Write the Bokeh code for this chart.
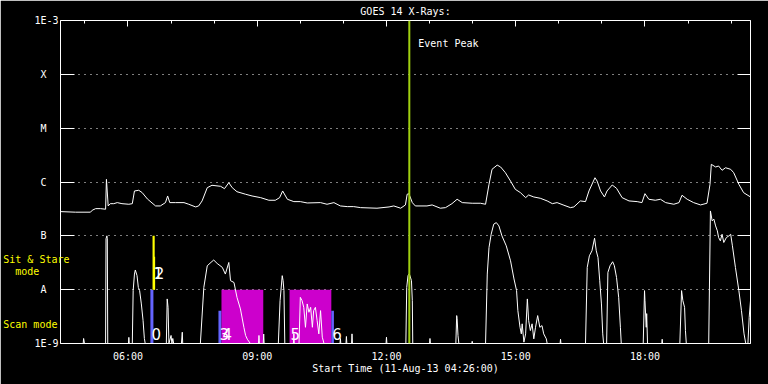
from bokeh.plotting import figure
from bokeh.models import (Range1d, FixedTicker, LinearAxis, LogAxis, Label, Span,
                          ColumnDataSource)
from bokeh.core.properties import value
from bokeh.embed import file_html
from bokeh.resources import INLINE

# ---------------- data (time in decimal hours of 11-Aug-13, flux in W/m^2) -------------
x_start = 4 + 26 / 60.0          # 04:26
x_end = 20.45
event_peak_time = 12.53
F = 1e-9                         # floor of the short channel (bottom of plot)

long_t = [4.43, 4.78, 5.13, 5.17, 5.25, 5.36, 5.48, 5.50, 5.54, 5.59, 5.67, 5.75, 5.86,
          6.02, 6.10, 6.15, 6.25, 6.33, 6.45, 6.64, 6.75, 6.87, 6.92, 6.97, 7.10, 7.30,
          7.41, 7.57, 7.64, 7.72, 7.84, 7.95, 8.15, 8.24, 8.34, 8.42, 8.53, 8.73, 8.88,
          9.08, 9.27, 9.42, 9.52, 9.59, 9.70, 9.85, 10.00, 10.16, 10.47, 10.62, 10.78,
          10.93, 11.09, 11.24, 11.40, 11.78, 12.06, 12.17, 12.33, 12.44, 12.48,
          12.52, 12.60, 12.67, 12.94, 13.06, 13.25, 13.37, 13.52, 13.64, 13.76, 13.99,
          14.18, 14.30, 14.38, 14.45, 14.57, 14.65, 14.76, 14.88, 14.99, 15.11, 15.23,
          15.30, 15.42, 15.57, 15.73, 15.85, 15.96, 16.12, 16.27, 16.35, 16.50, 16.62,
          16.70, 16.84, 16.89, 16.97, 17.06, 17.12, 17.24, 17.34, 17.47, 17.63, 17.82,
          17.93, 18.00, 18.09, 18.24, 18.36, 18.48, 18.67, 18.79, 18.86, 18.98, 19.13,
          19.29, 19.44, 19.51, 19.54, 19.64, 19.71, 19.79, 19.87, 19.99, 20.06, 20.18,
          20.29, 20.45]
long_flux = [2.82e-7, 2.75e-7, 2.75e-7, 2.99e-7, 3.2e-7, 3.2e-7, 3.12e-7, 1.12e-6, 3.59e-7,
             3.96e-7, 3.96e-7, 4.14e-7, 3.96e-7, 3.86e-7, 3.96e-7, 6.81e-7, 7.02e-7, 6.34e-7,
             4.84e-7, 3.59e-7, 3.59e-7, 4.14e-7, 5.5e-7, 4.14e-7, 4.14e-7, 4.14e-7, 3.86e-7,
             3.44e-7, 3.59e-7, 4.45e-7, 7.84e-7, 8.69e-7, 8.32e-7, 7.52e-7, 9.7e-7, 7.84e-7,
             6.6e-7, 5.92e-7, 5.5e-7, 5.12e-7, 4.58e-7, 4.58e-7, 5.12e-7, 6.81e-7, 4.78e-7,
             4.32e-7, 4.32e-7, 4.08e-7, 4.14e-7, 3.86e-7, 4.14e-7, 3.59e-7, 3.49e-7, 3.49e-7,
             3.34e-7, 3.26e-7, 3.44e-7, 3.59e-7, 3.26e-7, 3.75e-7, 5.92e-7,
             6.07e-7, 4.14e-7, 3.59e-7, 3.59e-7, 3.75e-7, 3.26e-7, 3.34e-7, 3.96e-7, 4.78e-7,
             4.14e-7, 4.03e-7, 4.03e-7, 3.86e-7, 9.06e-7, 1.72e-6, 2.06e-6, 1.9e-6, 1.49e-6,
             1.04e-6, 7.32e-7, 6.34e-7, 5.12e-7, 5.74e-7, 5.27e-7, 4.99e-7, 4.45e-7, 3.96e-7,
             4.14e-7, 3.7e-7, 3.34e-7, 3.44e-7, 4.45e-7, 4.32e-7, 6.81e-7, 1.2e-6, 1.04e-6,
             6.81e-7, 5.27e-7, 6.81e-7, 8.79e-7, 7.64e-7, 5.12e-7, 4.45e-7, 4.32e-7, 4.14e-7,
             6.07e-7, 4.78e-7, 4.58e-7, 4.78e-7, 4.14e-7, 3.86e-7, 4.14e-7, 5.67e-7, 4.78e-7,
             4.14e-7, 3.75e-7, 4.03e-7, 9.06e-7, 2.13e-6, 1.9e-6, 1.98e-6, 1.65e-6, 1.84e-6,
             1.72e-6, 1.49e-6, 9.06e-7, 6.34e-7, 5.27e-7]

short_t = [4.43, 4.96, 4.97, 4.99, 5.48, 5.49, 5.51, 5.52, 5.53, 6.01, 6.02, 6.03,
           6.10, 6.12, 6.15, 6.17, 6.21, 6.24, 6.27, 6.31, 6.35, 6.38, 6.40,
           6.89, 6.91, 6.93, 6.95, 7.00, 7.02, 7.04, 7.06, 7.24, 7.26, 7.27,
           7.68, 7.76, 7.84, 7.95, 7.99, 8.07, 8.19, 8.26, 8.34, 8.38, 8.46, 8.53, 8.61,
           8.69, 8.73, 8.77, 8.84, 9.03, 9.04, 9.05, 9.14, 9.15, 9.16,
           9.49, 9.53, 9.58, 9.60, 9.62, 9.64, 9.84, 9.85, 9.86,
           9.97, 10.00, 10.04, 10.08, 10.12, 10.16, 10.20, 10.24, 10.28, 10.31, 10.35,
           10.39, 10.43, 10.47, 10.51, 10.55, 10.92, 10.93, 10.94, 11.06, 11.07, 11.08,
           11.19, 11.20, 11.21, 11.99, 12.00, 12.01,
           12.45, 12.47, 12.50, 12.53, 12.58, 12.60, 12.61, 13.00, 13.01, 13.02,
           13.61, 13.63, 13.64, 13.66, 13.68, 13.98, 13.99, 14.00,
           14.30, 14.34, 14.38, 14.43, 14.49, 14.55, 14.61, 14.68, 14.78, 14.88, 14.96,
           15.02, 15.05, 15.10, 15.13, 15.15, 15.19, 15.23, 15.27, 15.30, 15.34, 15.38,
           15.42, 15.46, 15.51, 15.56, 15.61, 15.65, 15.71, 15.73, 16.03, 16.04, 16.05,
           16.62, 16.66, 16.71, 16.77, 16.83, 16.87, 16.91, 16.95, 16.99, 17.02, 17.04,
           17.11, 17.14, 17.19, 17.25, 17.29, 17.34, 17.39, 17.43, 17.45,
           17.96, 17.99, 18.00, 18.03, 18.04, 18.06, 18.39, 18.40, 18.41,
           18.81, 18.85, 18.88, 18.92, 18.94, 18.96,
           19.48, 19.52, 19.56, 19.60, 19.64, 19.68, 19.71, 19.75, 19.79, 19.83, 19.89,
           19.95, 19.99, 20.03, 20.10, 20.18, 20.24, 20.30, 20.34, 20.39, 20.42, 20.45]
short_flux = [F, F, 1.24e-9, F, F, 8.8e-8, 1.0e-7, 8.8e-8, F, F, 1.3e-9, F,
              F, 9.6e-9, 1.95e-8, 2.32e-8, 1.82e-8, 1.1e-8, 9.6e-9, 5.43e-9, 2.67e-9, 1.24e-9, F,
              F, 6.73e-9, 4.7e-9, F, 1.41e-9, F, 1.24e-9, F, F, 1.62e-9, F,
              F, 1.1e-8, 2.78e-8, 3.34e-8, 3.55e-8, 3.07e-8, 2.59e-8, 1.95e-8, 3.2e-8, 1.47e-8,
              1.36e-8, 7.2e-9, 4.39e-9, 2.0e-9, 1.41e-9, 1.2e-9, F, F, 1.41e-9, F, F, 1.5e-9, F,
              F, 6.25e-9, 1.82e-8, 1.47e-8, 9.6e-9, F, F, 1.53e-9, F,
              F, 7.2e-9, 6.25e-9, 4.7e-9, 2.0e-9, 5.43e-9, 3.8e-9, 4.7e-9, 2.0e-9, 4.08e-9, 4.7e-9,
              2.67e-9, 1.51e-9, 4.08e-9, 1.31e-9, F, F, 1.24e-9, F, F, 1.35e-9, F,
              F, 1.51e-9, F, F, 1.31e-9, F,
              F, 1.1e-8, 1.82e-8, 1.98e-8, 1.47e-8, 6.25e-9, F, F, 1.24e-9, F,
              F, 3.3e-9, 2.9e-9, 1.41e-9, F, F, 1.1e-9, F,
              F, 1.95e-8, 6.07e-8, 1.07e-7, 1.65e-7, 1.76e-7, 1.53e-7, 1.0e-7, 6.53e-8, 3.44e-8,
              1.58e-8, 9.6e-9, 4.08e-9, 2.0e-9, 1.51e-9, 2.32e-9, 1.06e-9, 1.51e-9, 6.73e-9,
              2.67e-9, 1.74e-9, 2.32e-9, 1.22e-9, 2.0e-9, 3.3e-9, 2.0e-9, 2.15e-9, 1.51e-9,
              1.22e-9, F, F, 1.2e-9, F,
              F, 2.59e-8, 4.26e-8, 5.27e-8, 9.06e-8, 5.27e-8, 3.96e-8, 1.47e-8, 5.43e-9, 1.51e-9, F,
              F, 2.09e-8, 2.78e-8, 3.3e-8, 2.78e-8, 1.69e-8, 7.2e-9, 2.0e-9, F,
              F, 9.6e-9, 6.25e-9, 2.0e-9, 3.59e-9, F, F, 1.2e-9, F,
              F, 9.6e-9, 6.25e-9, 4.7e-9, 1.74e-9, F,
              F, 2.9e-7, 1.9e-7, 2.04e-7, 1.53e-7, 1.24e-7, 9.3e-8, 8.07e-8, 1.07e-7, 7.52e-8,
              9.3e-8, 1.0e-7, 1.07e-7, 6.53e-8, 2.59e-8, 9.6e-9, 4.08e-9, 1.51e-9, F, F,
              3.07e-9, 6.25e-9]

# observations: start/end time, flux band covered, kind, label
obs_start = [6.52, 6.57, 6.60, 8.10, 8.17, 9.75, 10.72]
obs_end = [6.59, 6.62, 6.63, 8.17, 9.14, 10.72, 10.78]
obs_low = [1e-9, 1e-8, 1e-8, 1e-9, 1e-9, 1e-9, 1e-9]
obs_high = [1e-8, 1e-7, 4.08e-8, 4.08e-9, 1e-8, 1e-8, 4.08e-9]
obs_kind = ["scan", "sit", "sit", "scan", "raster", "raster", "scan"]
obs_label = ["0", "1", "2", "3", "4", "5", "6"]

ytick_vals = [1e-9, 1e-8, 1e-7, 1e-6, 1e-5, 1e-4, 1e-3]
ytick_text = ["1E-9", "A", "B", "C", "M", "X", "1E-3"]
xtick_vals = [6, 9, 12, 15, 18]
xtick_text = ["06:00", "09:00", "12:00", "15:00", "18:00"]
xminor_vals = [5, 7, 8, 10, 11, 13, 14, 16, 17, 19, 20]
mode_text = ["Sit & Stare", "mode", "Scan mode"]
mode_at = [3.67e-8, 2.15e-8, 2.3e-9]          # heights where the mode notes sit

# ---------------- styling ----------------
FONT = "DejaVu Sans Mono"
NUM_FONT = "DejaVu Sans"
NB = "\u00a0"
kind_color = {"scan": "#6464ff", "sit": "#ffff00", "raster": "#cc00cc"}
kind_label_y = {"scan": 1.5e-9, "sit": 2.05e-8, "raster": 1.5e-9}
WHITE = "white"
YELLOW = "#ffff00"

p = figure(width=768, height=384, output_backend="svg", toolbar_location=None,
           x_range=Range1d(x_start, x_end), y_range=Range1d(1e-9, 1e-3),
           y_axis_type="log",
           min_border_left=60, min_border_right=18, min_border_top=20,
           min_border_bottom=41,
           background_fill_color="black", border_fill_color="black",
           outline_line_color=None)

# title
p.title.text = "GOES 14 X-Rays:"
p.title.align = "center"
p.title.text_color = WHITE
p.title.text_font = FONT
p.title.text_font_size = "10px"
p.title.text_font_style = "normal"
p.title.standoff = 7

# grid
p.xgrid.visible = False
p.ygrid.ticker = FixedTicker(ticks=ytick_vals[1:-1])
p.ygrid.grid_line_color = WHITE
p.ygrid.grid_line_dash = "1 5"
p.ygrid.grid_line_width = 1


def silent_labels(axis, ticks):
    """Axis draws only its line and ticks: its tick labels are blank."""
    axis.major_label_overrides = {t: "" for t in ticks}
    axis.major_label_text_color = None
    axis.major_label_text_font_size = "1px"
    axis.major_label_standoff = 0


# bottom axis: labels only
xa = p.xaxis[0]
xa.ticker = FixedTicker(ticks=xtick_vals)
xa.major_label_overrides = {v: t for v, t in zip(xtick_vals, xtick_text)}
xa.major_tick_in = 0
xa.major_tick_out = 0
xa.minor_tick_in = 0
xa.minor_tick_out = 0
xa.axis_line_color = WHITE
xa.major_label_text_color = WHITE
xa.major_label_text_font = FONT
xa.major_label_text_font_size = "10px"
xa.major_label_standoff = 7
xa.axis_label = "Start Time (11-Aug-13 04:26:00)"
xa.axis_label_text_color = WHITE
xa.axis_label_text_font = FONT
xa.axis_label_text_font_size = "10px"
xa.axis_label_text_font_style = "normal"
xa.axis_label_standoff = -2

# top axis: ticks only
top = LinearAxis(ticker=FixedTicker(ticks=xtick_vals, minor_ticks=xminor_vals),
                 major_tick_in=6, major_tick_out=0, minor_tick_in=3, minor_tick_out=0,
                 major_tick_line_color=WHITE, minor_tick_line_color=WHITE,
                 axis_line_color=WHITE)
silent_labels(top, xtick_vals)
p.add_layout(top, "above")

# left axis: decade ticks pointing in, class letters as labels
pad = {"1E-9": "", "1E-3": "", "M": NB * 2}
ya = p.yaxis[0]
ya.ticker = FixedTicker(ticks=ytick_vals)
ya.major_label_overrides = {v: t + pad.get(t, NB * 2) for v, t in zip(ytick_vals, ytick_text)}
ya.major_tick_in = 14
ya.major_tick_out = 0
ya.minor_tick_in = 0
ya.minor_tick_out = 0
ya.major_tick_line_color = WHITE
ya.axis_line_color = WHITE
ya.major_label_text_color = WHITE
ya.major_label_text_font = FONT
ya.major_label_text_font_size = "10px"
ya.major_label_standoff = 2

# second left axis: the yellow mode notes
mode_pad = {"Sit & Stare": "", "mode": NB * 5, "Scan mode": NB * 2}
modes = LogAxis(ticker=FixedTicker(ticks=mode_at),
                major_label_overrides={v: t + mode_pad[t] for v, t in zip(mode_at, mode_text)},
                major_tick_in=0, major_tick_out=0, minor_tick_in=0, minor_tick_out=0,
                axis_line_color=None, major_tick_line_color=None,
                major_label_text_color=YELLOW, major_label_text_font=FONT,
                major_label_text_font_size="10px", major_label_standoff=-38)
p.add_layout(modes, "left")

# right axis: decade ticks pointing in
right = LogAxis(ticker=FixedTicker(ticks=ytick_vals), major_tick_in=13, major_tick_out=0,
                minor_tick_in=0, minor_tick_out=0, major_tick_line_color=WHITE,
                axis_line_color=WHITE)
silent_labels(right, ytick_vals)
p.add_layout(right, "right")

# observation boxes
obs_src = ColumnDataSource(dict(
    left=obs_start, right=obs_end, bottom=obs_low, top=obs_high,
    color=[kind_color[k] for k in obs_kind],
    label=obs_label, ly=[kind_label_y[k] for k in obs_kind]))
p.quad(left="left", right="right", bottom="bottom", top="top", fill_color="color",
       line_color=None, source=obs_src)

# light curves
p.line(long_t, long_flux, line_color=WHITE, line_width=1)
p.line(short_t, short_flux, line_color=WHITE, line_width=1)

# event peak
p.add_layout(Span(location=event_peak_time, dimension="height", line_color="#a0d010",
                  line_width=2))
p.add_layout(Label(x=event_peak_time, y=1e-3, x_offset=9, y_offset=-23, text="Event Peak",
                   text_color=WHITE, text_font=FONT, text_font_size="10px",
                   text_baseline="middle"))

# observation numbers
p.text(x="left", y="ly", text="label", source=obs_src, x_offset=1,
       text_color=WHITE, text_font=value(NUM_FONT), text_font_size="15px",
       text_baseline="middle", text_align="left")

open("out.html", "w").write(file_html(p, INLINE))
